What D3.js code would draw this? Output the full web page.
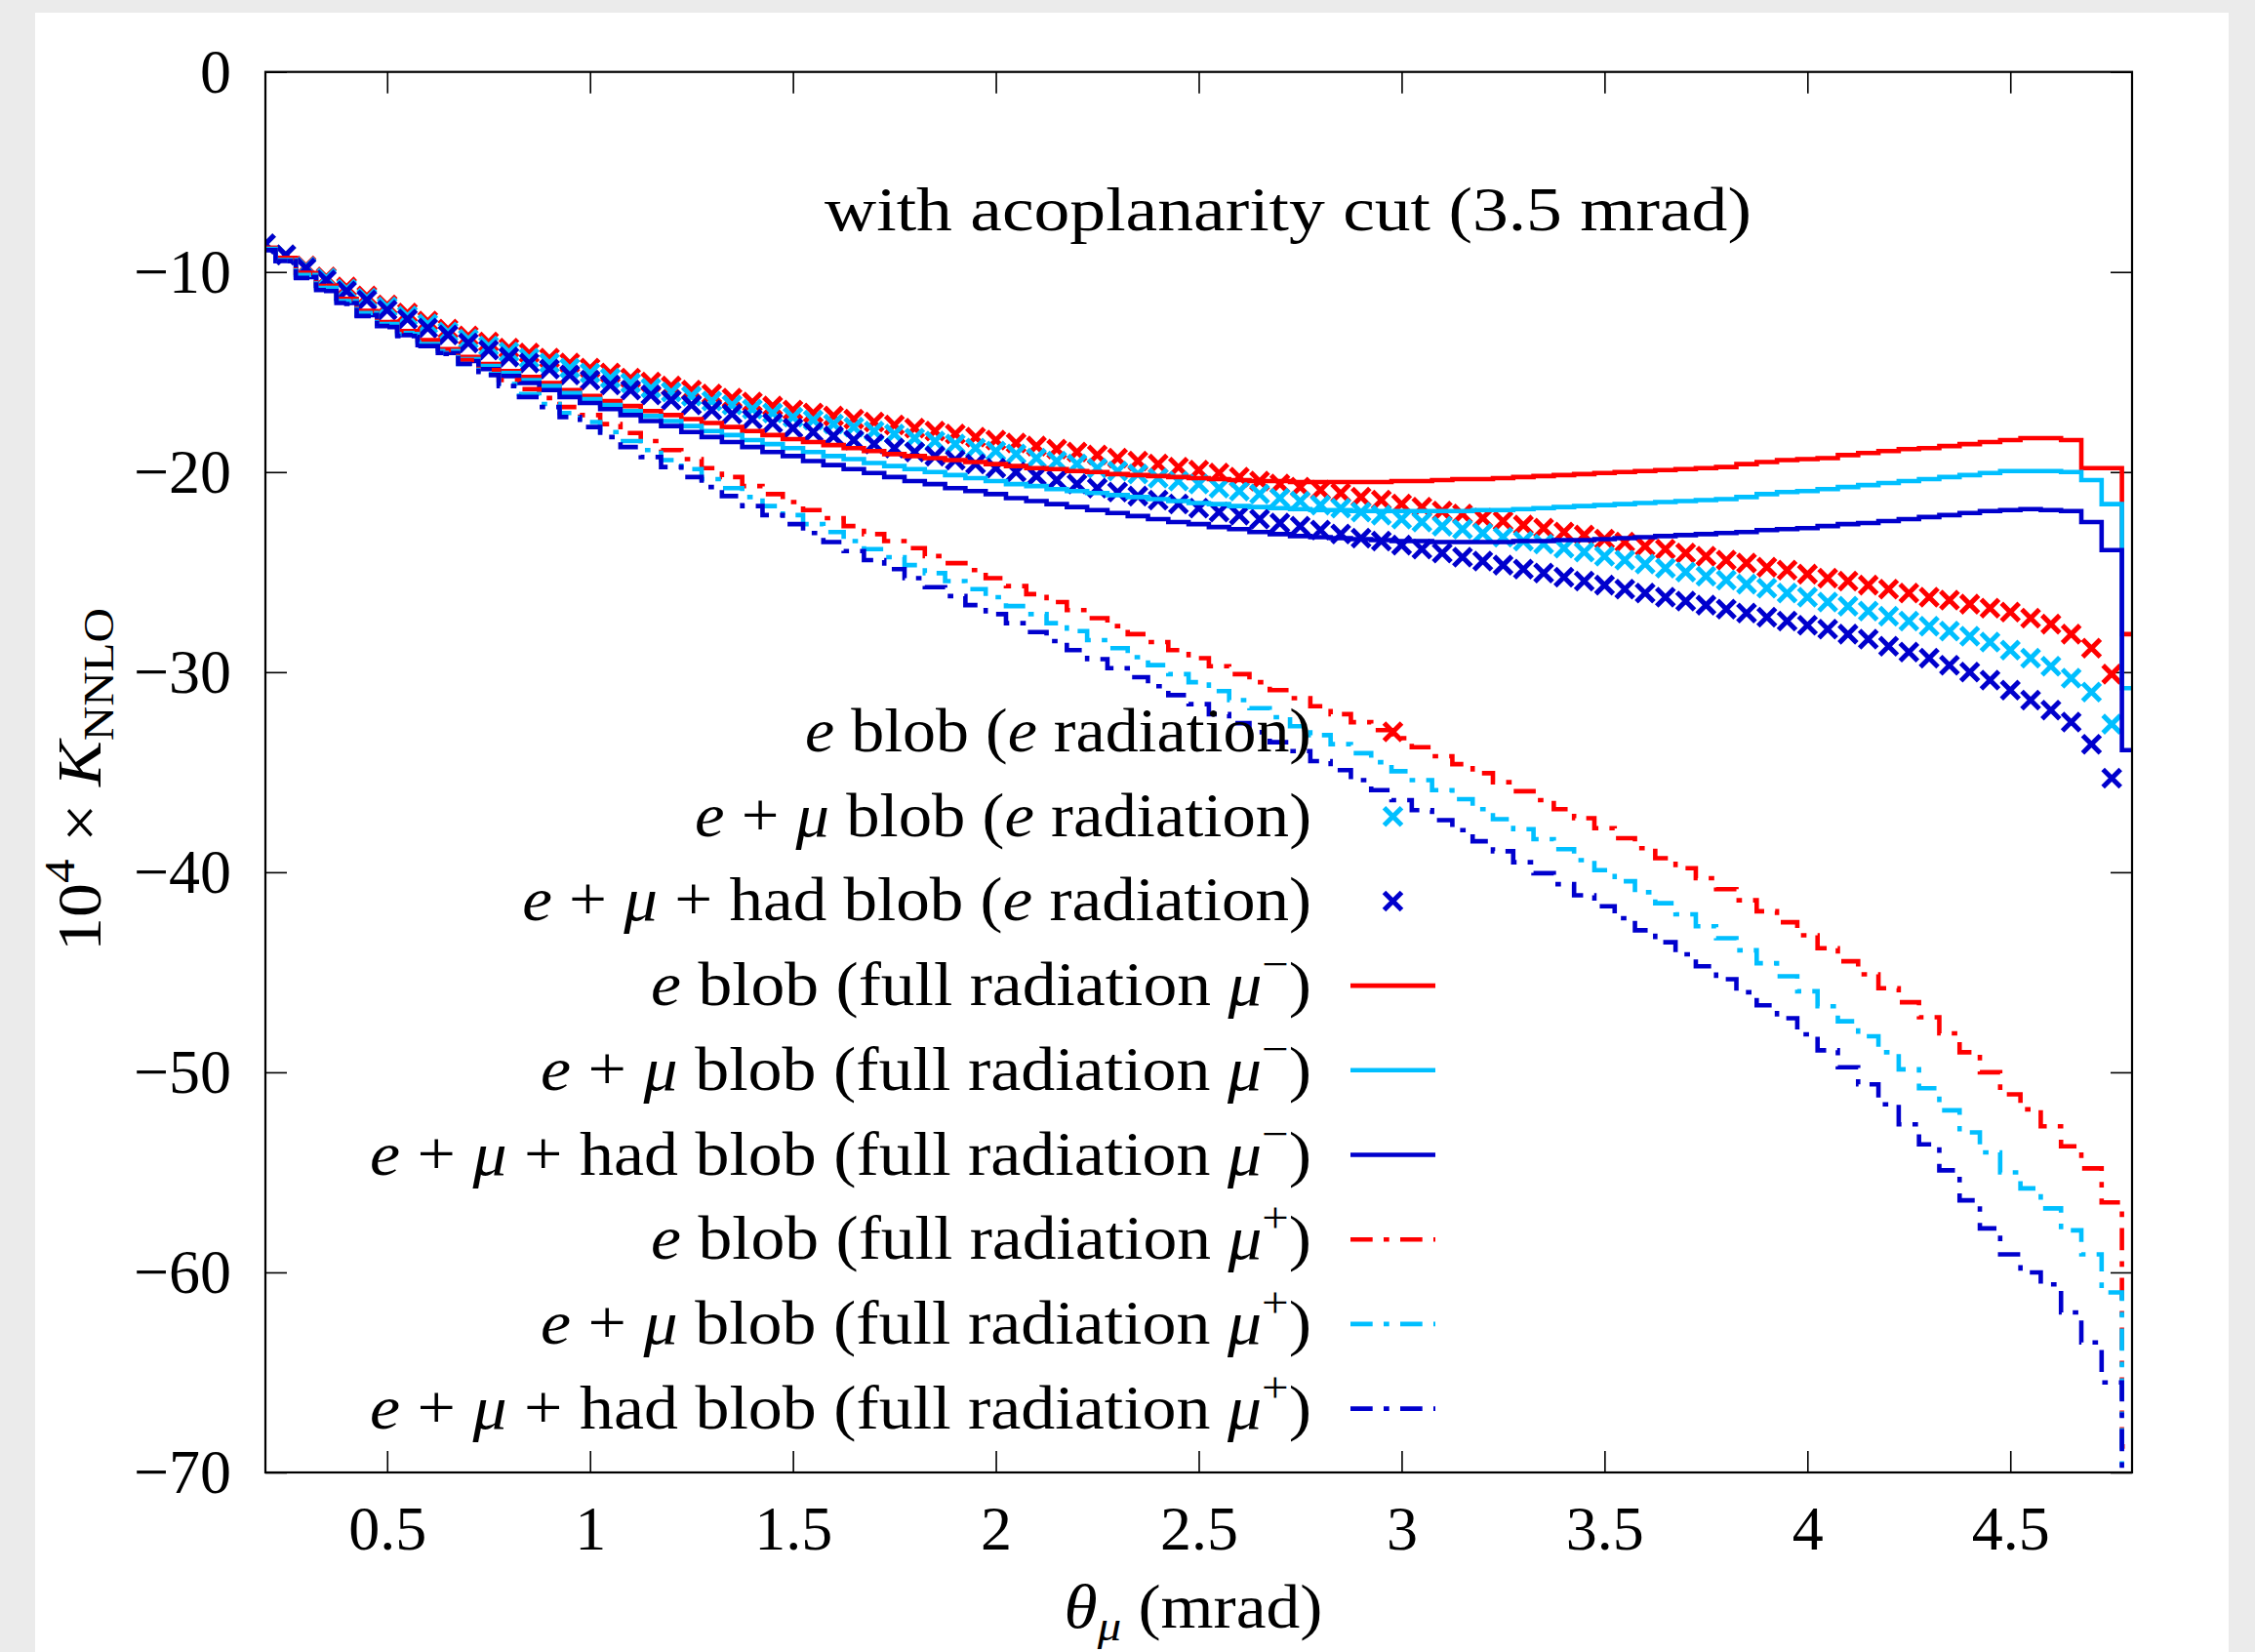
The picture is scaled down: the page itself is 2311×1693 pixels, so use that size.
<!DOCTYPE html>
<html>
<head>
<meta charset="utf-8">
<script src="https://cdn.jsdelivr.net/npm/d3@7"></script>
<style>
  html, body { margin: 0; padding: 0; background: #ebebeb; }
  svg { display: block; }
  text { font-family: "Liberation Serif", "Times New Roman", serif; fill: #000; }
</style>
</head>
<body>
<svg id="chart" width="2311" height="1693"></svg>
<script>
// Muon scattering angle bins (mrad), bin centres
const theta = [
  0.20,0.25,0.30,0.35,0.40,0.45,0.50,0.55,0.60,0.65,
  0.70,0.75,0.80,0.85,0.90,0.95,1.00,1.05,1.10,1.15,
  1.20,1.25,1.30,1.35,1.40,1.45,1.50,1.55,1.60,1.65,
  1.70,1.75,1.80,1.85,1.90,1.95,2.00,2.05,2.10,2.15,
  2.20,2.25,2.30,2.35,2.40,2.45,2.50,2.55,2.60,2.65,
  2.70,2.75,2.80,2.85,2.90,2.95,3.00,3.05,3.10,3.15,
  3.20,3.25,3.30,3.35,3.40,3.45,3.50,3.55,3.60,3.65,
  3.70,3.75,3.80,3.85,3.90,3.95,4.00,4.05,4.10,4.15,
  4.20,4.25,4.30,4.35,4.40,4.45,4.50,4.55,4.60,4.65,
  4.70,4.75,4.80
];

// 10^4 x K_NNLO, electron-line radiation only (points)
const eBlobERad = [
  -8.6,-9.15,-9.7,-10.25,-10.75,-11.2,-11.65,-12.05,-12.45,-12.85,
  -13.2,-13.5,-13.8,-14.05,-14.3,-14.55,-14.8,-15.05,-15.3,-15.5,
  -15.7,-15.9,-16.1,-16.3,-16.5,-16.7,-16.9,-17.05,-17.2,-17.35,
  -17.5,-17.65,-17.8,-17.95,-18.1,-18.25,-18.4,-18.55,-18.7,-18.85,
  -19.0,-19.15,-19.3,-19.45,-19.6,-19.75,-19.9,-20.05,-20.25,-20.45,
  -20.6,-20.75,-20.9,-21.05,-21.25,-21.4,-21.6,-21.75,-21.95,-22.1,
  -22.3,-22.45,-22.65,-22.8,-23.0,-23.15,-23.35,-23.5,-23.7,-23.85,
  -24.05,-24.2,-24.4,-24.55,-24.75,-24.9,-25.1,-25.3,-25.45,-25.65,
  -25.85,-26.05,-26.25,-26.4,-26.6,-26.8,-27.0,-27.3,-27.6,-28.1,
  -28.8,-30.1
];
const eMuBlobERad = [
  -8.6,-9.15,-9.75,-10.3,-10.85,-11.3,-11.75,-12.2,-12.6,-13.0,
  -13.35,-13.7,-14.0,-14.3,-14.55,-14.8,-15.05,-15.3,-15.55,-15.8,
  -16.0,-16.2,-16.45,-16.65,-16.85,-17.05,-17.25,-17.4,-17.6,-17.75,
  -17.95,-18.1,-18.3,-18.45,-18.6,-18.8,-18.95,-19.1,-19.3,-19.45,
  -19.6,-19.8,-19.95,-20.1,-20.3,-20.45,-20.6,-20.8,-20.95,-21.1,
  -21.3,-21.45,-21.65,-21.8,-22.0,-22.15,-22.35,-22.5,-22.7,-22.85,
  -23.05,-23.25,-23.45,-23.6,-23.8,-24.0,-24.2,-24.4,-24.6,-24.8,
  -25.0,-25.2,-25.4,-25.6,-25.8,-26.05,-26.25,-26.5,-26.7,-26.95,
  -27.2,-27.45,-27.7,-27.95,-28.2,-28.5,-28.9,-29.3,-29.7,-30.3,
  -31.0,-32.6
];
const eMuHadBlobERad = [
  -8.6,-9.15,-9.8,-10.4,-10.95,-11.4,-11.9,-12.35,-12.8,-13.15,
  -13.55,-13.9,-14.25,-14.55,-14.85,-15.15,-15.4,-15.65,-15.9,-16.15,
  -16.4,-16.65,-16.9,-17.1,-17.35,-17.55,-17.8,-18.0,-18.2,-18.4,
  -18.6,-18.8,-19.0,-19.2,-19.4,-19.6,-19.8,-20.0,-20.2,-20.4,
  -20.6,-20.8,-21.0,-21.2,-21.4,-21.6,-21.8,-22.0,-22.15,-22.35,
  -22.55,-22.7,-22.9,-23.1,-23.3,-23.45,-23.65,-23.85,-24.05,-24.25,
  -24.45,-24.65,-24.85,-25.05,-25.25,-25.45,-25.65,-25.85,-26.05,-26.25,
  -26.45,-26.65,-26.85,-27.05,-27.25,-27.45,-27.65,-27.85,-28.1,-28.35,
  -28.7,-29.0,-29.3,-29.65,-30.0,-30.4,-30.9,-31.4,-31.9,-32.5,
  -33.6,-35.3
];

// full radiation, mu- (solid histograms)
const eBlobMuMinus = [
  -8.8,-9.3,-10.05,-10.7,-11.35,-11.95,-12.5,-12.95,-13.4,-13.85,
  -14.25,-14.6,-14.95,-15.25,-15.55,-15.9,-16.2,-16.45,-16.7,-16.95,
  -17.15,-17.35,-17.55,-17.75,-17.95,-18.15,-18.35,-18.5,-18.65,-18.8,
  -18.95,-19.1,-19.2,-19.3,-19.4,-19.5,-19.6,-19.7,-19.8,-19.85,
  -19.95,-20.0,-20.1,-20.15,-20.2,-20.25,-20.3,-20.35,-20.4,-20.45,
  -20.45,-20.5,-20.5,-20.5,-20.5,-20.5,-20.45,-20.45,-20.4,-20.35,
  -20.35,-20.3,-20.25,-20.2,-20.15,-20.1,-20.05,-20.0,-19.95,-19.9,
  -19.85,-19.8,-19.75,-19.6,-19.5,-19.4,-19.35,-19.3,-19.15,-19.05,
  -18.95,-18.85,-18.8,-18.7,-18.6,-18.5,-18.4,-18.3,-18.3,-18.4,
  -19.8,-19.8,-28.1
];
const eMuBlobMuMinus = [
  -8.85,-9.4,-10.15,-10.8,-11.45,-12.05,-12.6,-13.05,-13.5,-13.95,
  -14.35,-14.7,-15.05,-15.4,-15.7,-16.05,-16.35,-16.65,-16.95,-17.2,
  -17.45,-17.7,-17.95,-18.15,-18.4,-18.6,-18.8,-19.0,-19.2,-19.35,
  -19.55,-19.7,-19.85,-20.0,-20.15,-20.3,-20.45,-20.6,-20.7,-20.85,
  -20.95,-21.05,-21.15,-21.25,-21.35,-21.45,-21.55,-21.6,-21.7,-21.75,
  -21.8,-21.85,-21.9,-21.9,-21.95,-21.95,-21.95,-21.95,-21.95,-21.95,
  -21.9,-21.9,-21.85,-21.8,-21.75,-21.7,-21.65,-21.6,-21.55,-21.5,
  -21.45,-21.4,-21.35,-21.25,-21.1,-21.0,-20.95,-20.85,-20.75,-20.65,
  -20.55,-20.45,-20.35,-20.25,-20.15,-20.05,-19.95,-19.95,-19.95,-20.0,
  -20.4,-21.6,-30.8
];
const eMuHadBlobMuMinus = [
  -8.9,-9.45,-10.25,-10.9,-11.55,-12.15,-12.7,-13.15,-13.65,-14.05,
  -14.45,-14.85,-15.2,-15.55,-15.9,-16.25,-16.55,-16.85,-17.15,-17.45,
  -17.7,-18.0,-18.25,-18.5,-18.75,-19.0,-19.2,-19.45,-19.65,-19.85,
  -20.05,-20.25,-20.45,-20.6,-20.8,-20.95,-21.1,-21.3,-21.45,-21.6,
  -21.75,-21.9,-22.05,-22.2,-22.35,-22.5,-22.6,-22.75,-22.85,-23.0,
  -23.1,-23.2,-23.25,-23.3,-23.35,-23.4,-23.45,-23.45,-23.5,-23.5,
  -23.5,-23.5,-23.45,-23.45,-23.4,-23.4,-23.35,-23.3,-23.25,-23.2,
  -23.15,-23.1,-23.05,-23.0,-22.9,-22.85,-22.8,-22.7,-22.6,-22.55,
  -22.45,-22.35,-22.25,-22.15,-22.05,-21.95,-21.9,-21.85,-21.9,-21.95,
  -22.5,-23.9,-33.9
];

// full radiation, mu+ (dash-dotted histograms)
const eBlobMuPlus = [
  -8.8,-9.3,-10.05,-10.7,-11.35,-11.95,-12.5,-12.95,-13.45,-13.9,
  -14.4,-14.9,-15.4,-15.85,-16.3,-16.75,-17.15,-17.6,-18.05,-18.45,
  -18.9,-19.35,-19.8,-20.25,-20.7,-21.1,-21.5,-21.9,-22.3,-22.7,
  -23.1,-23.45,-23.8,-24.2,-24.55,-24.9,-25.3,-25.7,-26.1,-26.5,
  -26.9,-27.3,-27.7,-28.1,-28.5,-28.9,-29.3,-29.7,-30.1,-30.5,
  -30.9,-31.3,-31.7,-32.1,-32.5,-32.9,-33.3,-33.75,-34.2,-34.6,
  -35.05,-35.5,-35.95,-36.4,-36.85,-37.3,-37.8,-38.3,-38.8,-39.3,
  -39.8,-40.3,-40.85,-41.4,-41.95,-42.5,-43.15,-43.8,-44.45,-45.1,
  -45.8,-46.5,-47.25,-48.05,-49.0,-50.0,-51.1,-51.85,-52.7,-53.7,
  -54.8,-56.5,-68.7
];
const eMuBlobMuPlus = [
  -8.85,-9.4,-10.15,-10.8,-11.45,-12.05,-12.6,-13.1,-13.6,-14.05,
  -14.6,-15.1,-15.6,-16.1,-16.6,-17.05,-17.5,-18.0,-18.45,-18.9,
  -19.4,-19.85,-20.35,-20.8,-21.25,-21.7,-22.15,-22.6,-23.0,-23.45,
  -23.85,-24.25,-24.65,-25.05,-25.45,-25.85,-26.25,-26.7,-27.1,-27.55,
  -27.95,-28.4,-28.8,-29.25,-29.65,-30.1,-30.5,-30.95,-31.4,-31.8,
  -32.25,-32.7,-33.15,-33.6,-34.05,-34.5,-34.95,-35.4,-35.9,-36.35,
  -36.85,-37.35,-37.85,-38.35,-38.85,-39.4,-39.9,-40.45,-41.0,-41.55,
  -42.1,-42.7,-43.3,-43.9,-44.55,-45.2,-45.95,-46.7,-47.45,-48.2,
  -49.0,-49.85,-50.8,-51.9,-53.0,-54.0,-55.0,-55.8,-56.8,-57.9,
  -59.1,-61.0,-72.0
];
const eMuHadBlobMuPlus = [
  -8.9,-9.45,-10.3,-10.95,-11.6,-12.2,-12.75,-13.2,-13.7,-14.1,
  -14.6,-15.15,-15.7,-16.25,-16.75,-17.25,-17.75,-18.25,-18.75,-19.25,
  -19.75,-20.25,-20.75,-21.2,-21.7,-22.15,-22.6,-23.05,-23.5,-23.95,
  -24.4,-24.85,-25.3,-25.75,-26.2,-26.65,-27.1,-27.55,-28.0,-28.45,
  -28.9,-29.35,-29.8,-30.25,-30.7,-31.15,-31.6,-32.1,-32.55,-33.0,
  -33.5,-33.95,-34.45,-34.9,-35.4,-35.9,-36.4,-36.9,-37.4,-37.9,
  -38.45,-38.95,-39.5,-40.05,-40.6,-41.15,-41.7,-42.3,-42.9,-43.5,
  -44.1,-44.7,-45.35,-46.0,-46.65,-47.3,-48.1,-48.9,-49.75,-50.6,
  -51.6,-52.6,-53.6,-54.9,-56.4,-57.8,-59.1,-60.0,-60.6,-62.0,
  -63.5,-65.5,-76.0
];

const xTicks = [0.5, 1, 1.5, 2, 2.5, 3, 3.5, 4, 4.5];
const yTicks = [0, -10, -20, -30, -40, -50, -60, -70];

const RED = "#ff0000", CYAN = "#00bfff", BLUE = "#0000cd";

// legend labels as [text, style] runs: i = italic, sup = superscript
const series = [
  { kind: "points", color: RED,  values: eBlobERad,
    label: [["e","i"],[" blob ("],["e","i"],[" radiation)"]] },
  { kind: "points", color: CYAN, values: eMuBlobERad,
    label: [["e","i"],[" + "],["μ","i"],[" blob ("],["e","i"],[" radiation)"]] },
  { kind: "points", color: BLUE, values: eMuHadBlobERad,
    label: [["e","i"],[" + "],["μ","i"],[" + had blob ("],["e","i"],[" radiation)"]] },
  { kind: "solid", color: RED,  values: eBlobMuMinus,
    label: [["e","i"],[" blob (full radiation "],["μ","i"],["−","sup"],[")"]] },
  { kind: "solid", color: CYAN, values: eMuBlobMuMinus,
    label: [["e","i"],[" + "],["μ","i"],[" blob (full radiation "],["μ","i"],["−","sup"],[")"]] },
  { kind: "solid", color: BLUE, values: eMuHadBlobMuMinus,
    label: [["e","i"],[" + "],["μ","i"],[" + had blob (full radiation "],["μ","i"],["−","sup"],[")"]] },
  { kind: "dashdot", color: RED,  values: eBlobMuPlus,
    label: [["e","i"],[" blob (full radiation "],["μ","i"],["+","sup"],[")"]] },
  { kind: "dashdot", color: CYAN, values: eMuBlobMuPlus,
    label: [["e","i"],[" + "],["μ","i"],[" blob (full radiation "],["μ","i"],["+","sup"],[")"]] },
  { kind: "dashdot", color: BLUE, values: eMuHadBlobMuPlus,
    label: [["e","i"],[" + "],["μ","i"],[" + had blob (full radiation "],["μ","i"],["+","sup"],[")"]] }
];

// ---------------------------------------------------------------
const svg = d3.select("#chart");
const W = 2311, H = 1693;
const plot = { left: 272, right: 2185, top: 73.7, bottom: 1509 };
const FS = 64;            // base font size
const LW = 4.6;           // data line width
const DASH = "22.7 11.3 5.7 11.3";
const CROSS = 9;          // half size of the point marker
const CROSS_W = 5;        // marker stroke width

// page frame
svg.append("rect").attr("x", 0).attr("y", 0).attr("width", W).attr("height", H).attr("fill", "#ebebeb");
svg.append("rect").attr("x", 36).attr("y", 13).attr("width", 2248).attr("height", H).attr("fill", "#ffffff");

const x = d3.scaleLinear().domain([0.2, 4.8]).range([plot.left, plot.right]);
const y = d3.scaleLinear().domain([-70, 0]).range([plot.bottom, plot.top]);

svg.append("defs").append("clipPath").attr("id", "plotClip")
  .append("rect")
  .attr("x", plot.left).attr("y", plot.top)
  .attr("width", plot.right - plot.left).attr("height", plot.bottom - plot.top);

// axes with inward ticks on all four sides
function styleAxis(g) {
  g.select(".domain").remove();
  g.selectAll(".tick line").attr("stroke", "#000").attr("stroke-width", 1.6);
  g.selectAll(".tick text").attr("font-family", "Liberation Serif").attr("font-size", FS).attr("fill", "#000");
}
svg.append("g").attr("transform", `translate(0,${plot.bottom})`)
  .call(d3.axisBottom(x).tickValues(xTicks).tickSize(-22).tickSizeOuter(0).tickPadding(34).tickFormat(d3.format("")))
  .call(styleAxis);
svg.append("g").attr("transform", `translate(0,${plot.top})`)
  .call(d3.axisTop(x).tickValues(xTicks).tickSize(-22).tickSizeOuter(0).tickFormat(""))
  .call(styleAxis);
svg.append("g").attr("transform", `translate(${plot.left},0)`)
  .call(d3.axisLeft(y).tickValues(yTicks).tickSize(-22).tickSizeOuter(0).tickPadding(35).tickFormat(d3.format("")))
  .call(styleAxis);
svg.append("g").attr("transform", `translate(${plot.right},0)`)
  .call(d3.axisRight(y).tickValues(yTicks).tickSize(-22).tickSizeOuter(0).tickFormat(""))
  .call(styleAxis);

// data
const dataG = svg.append("g").attr("clip-path", "url(#plotClip)");
const stepLine = d3.line().x(d => x(d[0])).y(d => y(d[1])).curve(d3.curveStep);
const crossPath = h => `M${-h},${-h}L${h},${h}M${-h},${h}L${h},${-h}`;

series.forEach(s => {
  const pts = s.values.map((v, i) => [theta[i], v]);
  if (s.kind === "points") {
    dataG.append("g").selectAll("path").data(pts).join("path")
      .attr("transform", d => `translate(${x(d[0])},${y(d[1])})`)
      .attr("d", crossPath(CROSS))
      .attr("fill", "none").attr("stroke", s.color).attr("stroke-width", CROSS_W);
  } else {
    dataG.append("path").datum(pts)
      .attr("d", stepLine)
      .attr("fill", "none").attr("stroke", s.color).attr("stroke-width", LW)
      .attr("stroke-dasharray", s.kind === "dashdot" ? DASH : null);
  }
});

// helper: write a run-based label into a text element
function writeRuns(textSel, runs, fs) {
  let raised = 0;
  runs.forEach(([t, st]) => {
    const ts = textSel.append("tspan").text(t);
    if (st === "i") ts.attr("font-style", "italic");
    if (st === "sup") {
      ts.attr("font-size", fs * 0.7).attr("dy", -fs * 0.42);
      raised = fs * 0.42;
    } else if (st === "sub") {
      ts.attr("font-size", fs * 0.7).attr("dy", fs * 0.2);
      raised = -fs * 0.2;
    } else if (raised !== 0) {
      ts.attr("dy", raised);
      raised = 0;
    }
  });
}
// horizontal stretch that brings a text to a given width
function fitWidth(textSel, width) {
  const w = textSel.node().getComputedTextLength();
  return width / w;
}

// legend
const legend = { textRight: 1344, x0: 1384, x1: 1471, y0: 750, dy: 86.7 };
const legendWidths = [519, 632, 809, 677, 790, 965, 677, 790, 965];
series.forEach((s, i) => {
  const ry = legend.y0 + i * legend.dy;
  const g = svg.append("g");
  const t = g.append("text").attr("text-anchor", "end").attr("font-size", FS);
  writeRuns(t, s.label, FS);
  const sx = fitWidth(t, legendWidths[i]);
  g.attr("transform", `translate(${legend.textRight},${ry + 20}) scale(${sx},1)`);
  if (s.kind === "points") {
    svg.append("path")
      .attr("transform", `translate(${(legend.x0 + legend.x1) / 2},${ry})`)
      .attr("d", crossPath(CROSS))
      .attr("fill", "none").attr("stroke", s.color).attr("stroke-width", CROSS_W);
  } else {
    svg.append("line")
      .attr("x1", legend.x0).attr("x2", legend.x1).attr("y1", ry).attr("y2", ry)
      .attr("stroke", s.color).attr("stroke-width", LW)
      .attr("stroke-dasharray", s.kind === "dashdot" ? DASH : null);
  }
});

// plot frame
svg.append("rect")
  .attr("x", plot.left).attr("y", plot.top)
  .attr("width", plot.right - plot.left).attr("height", plot.bottom - plot.top)
  .attr("fill", "none").attr("stroke", "#000").attr("stroke-width", 2.2);

// title inside the plot
{
  const g = svg.append("g");
  const t = g.append("text").attr("text-anchor", "middle").attr("font-size", FS)
    .text("with acoplanarity cut (3.5 mrad)");
  const sx = fitWidth(t, 950);
  g.attr("transform", `translate(1320,236) scale(${sx},1)`);
}

// x axis label
{
  const g = svg.append("g");
  const t = g.append("text").attr("text-anchor", "middle").attr("font-size", FS);
  writeRuns(t, [["θ","i"],["μ","sub"],[" (mrad)"]], FS);
  t.selectAll("tspan").filter((d, i) => i === 1).attr("font-style", "italic");
  const sx = fitWidth(t, 265);
  g.attr("transform", `translate(1223,1668) scale(${sx},1)`);
}

// y axis label
{
  const g = svg.append("g");
  const t = g.append("text").attr("text-anchor", "middle").attr("font-size", FS);
  writeRuns(t, [["10"],["4","sup"],[" × "],["K","i"],["NNLO","sub"]], FS);
  const sx = fitWidth(t, 352);
  g.attr("transform", `translate(103,799) rotate(-90) scale(${sx},1)`);
}
</script>
</body>
</html>
